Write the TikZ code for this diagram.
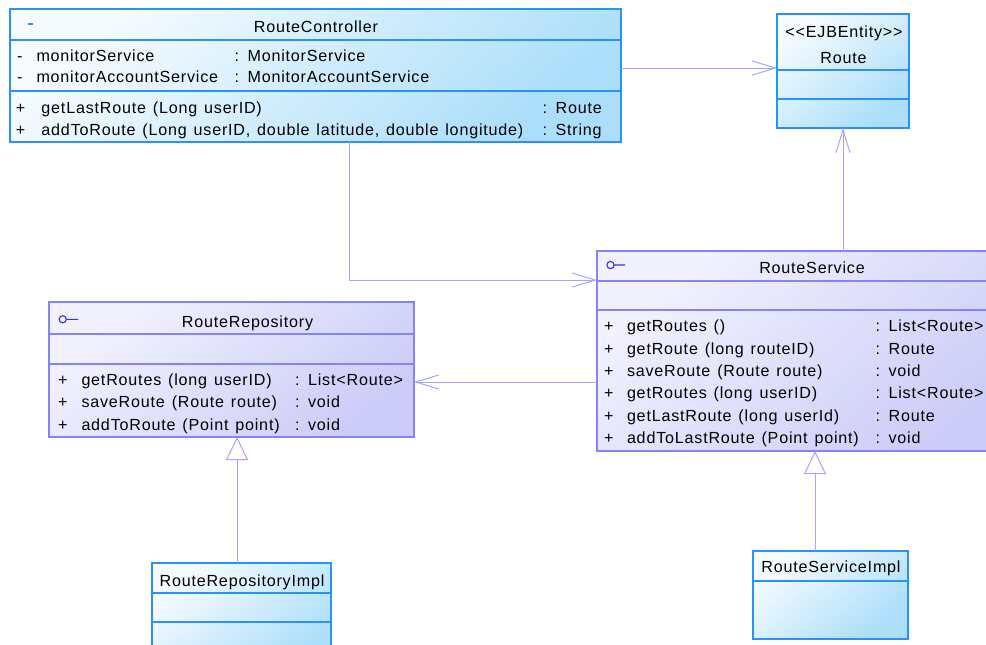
\documentclass[tikz,border=0pt]{standalone}
\usepackage{fontspec}
\newfontfamily\umlfont{Liberation Sans}[LetterSpace=5, WordSpace=1.3]
\usetikzlibrary{arrows.meta}

% palette
\definecolor{clsline}{RGB}{40,145,250}
\definecolor{clslight}{RGB}{246,251,255}
\definecolor{clsdark}{RGB}{170,222,250}
\definecolor{ifline}{RGB}{132,132,250}
\definecolor{iflight}{RGB}{242,242,255}
\definecolor{ifdark}{RGB}{204,204,248}
\definecolor{conn}{RGB}{165,165,255}
\definecolor{iconblue}{RGB}{50,50,240}

\tikzset{
  classbox/.style={rectangle, anchor=north west, inner sep=0pt, outer sep=0pt,
    draw=clsline, line width=1.5pt, top color=clslight, bottom color=clsdark, shading angle=40},
  ifacebox/.style={rectangle, anchor=north west, inner sep=0pt, outer sep=0pt,
    draw=ifline, line width=1.5pt, top color=iflight, bottom color=ifdark, shading angle=40},
  clsdiv/.style={draw=clsline, line width=1.3pt},
  ifdiv/.style={draw=ifline, line width=1.3pt},
  txt/.style={anchor=base west, inner sep=0pt, outer sep=0pt, text=black,
    font=\umlfont\fontsize{16.1}{19}\selectfont},
  ctxt/.style={txt, anchor=base},
  assoc/.style={draw=conn, line width=1pt, -{Straight Barb[length=23pt, width=14pt]}},
  realize/.style={draw=conn, line width=1pt, -{Triangle[open, length=23pt, width=22pt, fill=white]}},
  ifaceicon/.style={draw=iconblue, line width=1.1pt},
}

\begin{document}
\begin{tikzpicture}[x=1pt, y=-1pt]
\useasboundingbox (0,0) rectangle (986,645);
\fill[white] (0,0) rectangle (986,645);
\clip (0,0) rectangle (986,645);

% ---------- RouteController ----------
\node[classbox, minimum width=611pt, minimum height=133pt] (ctrl) at (10,9) {};
\draw[clsdiv] (ctrl.west |- 0,40) -- (ctrl.east |- 0,40);
\draw[clsdiv] (ctrl.west |- 0,91) -- (ctrl.east |- 0,91);
\draw[draw=clsline, line width=1.6pt] (27.5,24) -- (33,24);
\node[ctxt] (ctrlT) at (316,32.3) {RouteController};
\node[txt] (ca1v) at (17,61) {-};
\node[txt] (ca1n) at (36.5,61) {monitorService};
\node[txt] (ca1t) at (234.5,61) {: MonitorService};
\node[txt] (ca2v) at (17,82.7) {-};
\node[txt] (ca2n) at (36.5,82.7) {monitorAccountService};
\node[txt] (ca2t) at (234.5,82.7) {: MonitorAccountService};
\node[txt] (co1v) at (16,113.5) {+};
\node[txt] (co1n) at (41.5,113.5) {getLastRoute (Long userID)};
\node[txt] (co1t) at (542.5,113.5) {: Route};
\node[txt] (co2v) at (16,135) {+};
\node[txt] (co2n) at (41.5,135) {addToRoute (Long userID, double latitude, double longitude)};
\node[txt] (co2t) at (542.5,135) {: String};

% ---------- Route entity ----------
\node[classbox, minimum width=132pt, minimum height=114pt] (route) at (777,14) {};
\draw[clsdiv] (route.west |- 0,70) -- (route.east |- 0,70);
\draw[clsdiv] (route.west |- 0,99) -- (route.east |- 0,99);
\node[ctxt] (routeS) at (844,37.3) {\char60\char60 EJBEntity\char62\char62};
\node[ctxt] (routeT) at (843.5,63.3) {Route};

% ---------- RouteService ----------
\node[ifacebox, minimum width=420pt, minimum height=200pt] (svc) at (597,251) {};
\draw[ifdiv] (svc.west |- 0,281) -- (svc.east |- 0,281);
\draw[ifdiv] (svc.west |- 0,310) -- (svc.east |- 0,310);
\draw[ifaceicon] (610.5,265) circle (3.6pt) (614.1,265) -- (625,265);
\node[ctxt] (svcT) at (812,273.3) {RouteService};
\foreach \i/\y/\n/\t in {1/331.7/{getRoutes ()}/{: List<Route>},
                         2/354.1/{getRoute (long routeID)}/{: Route},
                         3/376.5/{saveRoute (Route route)}/{: void},
                         4/398.9/{getRoutes (long userID)}/{: List<Route>},
                         5/421.3/{getLastRoute (long userId)}/{: Route},
                         6/443.7/{addToLastRoute (Point point)}/{: void}}{
  \node[txt] (so\i-v) at (604,\y) {+};
  \node[txt] (so\i-n) at (627,\y) {\n};
  \node[txt] (so\i-t) at (875.5,\y) {\t};
}

% ---------- RouteRepository ----------
\node[ifacebox, minimum width=365pt, minimum height=135pt] (repo) at (49,302) {};
\draw[ifdiv] (repo.west |- 0,334) -- (repo.east |- 0,334);
\draw[ifdiv] (repo.west |- 0,364) -- (repo.east |- 0,364);
\draw[ifaceicon] (62.7,319.3) circle (3.6pt) (66.3,319.3) -- (78,319.3);
\node[ctxt] (repoT) at (247.5,327.3) {RouteRepository};
\foreach \i/\y/\n/\t in {1/385.7/{getRoutes (long userID)}/{: List<Route>},
                         2/407.9/{saveRoute (Route route)}/{: void},
                         3/430.1/{addToRoute (Point point)}/{: void}}{
  \node[txt] (ro\i-v) at (58,\y) {+};
  \node[txt] (ro\i-n) at (81.5,\y) {\n};
  \node[txt] (ro\i-t) at (295,\y) {\t};
}

% ---------- RouteRepositoryImpl ----------
\node[classbox, minimum width=179pt, minimum height=110pt] (rimpl) at (152,563) {};
\draw[clsdiv] (rimpl.west |- 0,593) -- (rimpl.east |- 0,593);
\draw[clsdiv] (rimpl.west |- 0,622) -- (rimpl.east |- 0,622);
\node[ctxt] (rimplT) at (242,586) {RouteRepositoryImpl};

% ---------- RouteServiceImpl ----------
\node[classbox, minimum width=155pt, minimum height=88pt] (simpl) at (753,551) {};
\draw[clsdiv] (simpl.west |- 0,581) -- (simpl.east |- 0,581);
\node[ctxt] (simplT) at (831,572.7) {RouteServiceImpl};

% ---------- connectors ----------
\draw[assoc] ([yshift=7.5pt]ctrl.east) -- ([yshift=3pt]route.west);
\draw[assoc] ([xshift=33.5pt]ctrl.south) |- ([yshift=-29pt]svc.north west);
\draw[assoc] (svc.north -| route.south) -- (route.south);
\draw[assoc] ([yshift=-131pt]svc.north west) -- ([yshift=-80pt]repo.north east);
\draw[realize] ([xshift=-4.5pt]rimpl.north) -- ([xshift=5.5pt]repo.south);
\draw[realize] ([xshift=-15.5pt]simpl.north) -- ([xshift=218pt]svc.south west);
\end{tikzpicture}
\end{document}
